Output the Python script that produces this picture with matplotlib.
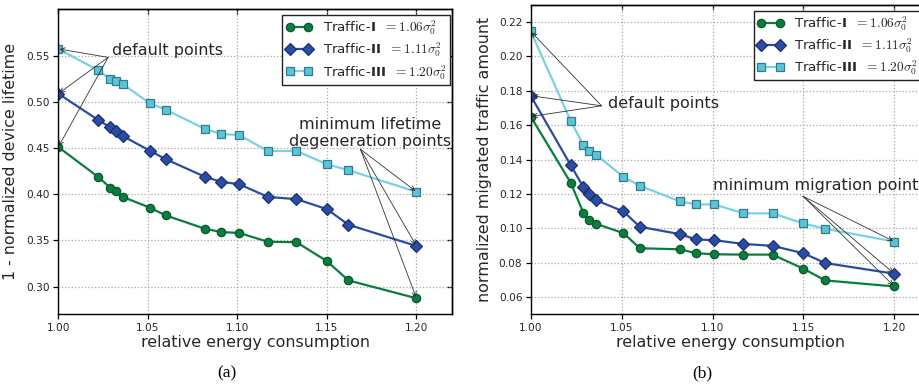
import matplotlib
matplotlib.use("Agg")
import matplotlib.pyplot as plt

plt.rcParams['font.family'] = ['DejaVu Sans']
plt.rcParams['mathtext.fontset'] = 'custom'
plt.rcParams['mathtext.rm'] = 'cmr10'
plt.rcParams['mathtext.it'] = 'cmmi10'
plt.rcParams['mathtext.bf'] = 'DejaVu Sans:bold'
plt.rcParams['mathtext.fallback'] = 'cm'
plt.rcParams['axes.unicode_minus'] = False

# ---------------- data ----------------
energy = [1.000, 1.022, 1.029, 1.032, 1.036, 1.051, 1.060, 1.082, 1.091,
          1.101, 1.117, 1.133, 1.150, 1.162, 1.200]

life_t1 = [0.451, 0.419, 0.407, 0.403, 0.397, 0.3855, 0.377, 0.3625, 0.359,
           0.358, 0.3485, 0.348, 0.3275, 0.3067, 0.2873]
life_t2 = [0.5087, 0.4806, 0.4723, 0.4687, 0.4629, 0.4471, 0.4378, 0.4187,
           0.4133, 0.4108, 0.397, 0.3946, 0.3838, 0.3669, 0.3439]
life_t3 = [0.5572, 0.5342, 0.5245, 0.522, 0.519, 0.4985, 0.4914, 0.4705,
           0.4651, 0.464, 0.4467, 0.4467, 0.4324, 0.4259, 0.4025]

mig_t1 = [0.165, 0.1265, 0.1089, 0.1046, 0.1026, 0.0972, 0.0884, 0.0878,
          0.0855, 0.0849, 0.0847, 0.0847, 0.0765, 0.0697, 0.0662]
mig_t2 = [0.1771, 0.1367, 0.1239, 0.1198, 0.1163, 0.1098, 0.1009, 0.0966,
          0.0935, 0.0931, 0.0909, 0.0898, 0.0855, 0.0798, 0.0736]
mig_t3 = [0.2145, 0.1625, 0.1484, 0.1447, 0.1428, 0.1299, 0.1247, 0.1157,
          0.1139, 0.1139, 0.1087, 0.1087, 0.1028, 0.0997, 0.0923]

labels = [r"Traffic-$\mathbf{I}$  $= 1.06\sigma_0^2$",
          r"Traffic-$\mathbf{II}$  $= 1.11\sigma_0^2$",
          r"Traffic-$\mathbf{III}$  $= 1.20\sigma_0^2$"]

xticks = [1.00, 1.05, 1.10, 1.15, 1.20]
yticks_a = [0.30, 0.35, 0.40, 0.45, 0.50, 0.55]
yticks_b = [0.06, 0.08, 0.10, 0.12, 0.14, 0.16, 0.18, 0.20, 0.22]

# ---------------- style ----------------
styles = [
    dict(color='#0b7d3e', marker='o', ms=6, mfc='#0b7d3e', mec='#075a2c'),
    dict(color='#2a4ca3', marker='D', ms=6, mfc='#2a4ca3', mec='#1b3272'),
    dict(color='#78d2e4', marker='s', ms=6, mfc='#5cc4d8', mec='#2f7d8a'),
]
TXT = '#262626'

W, H = 919, 387
fig = plt.figure(figsize=(W / 100, H / 100), dpi=100)

def px_axes(x0, x1, ytop, ybot):
    return fig.add_axes([x0 / W, 1 - ybot / H, (x1 - x0) / W, (ybot - ytop) / H])

axa = px_axes(58.3, 452.3, 9.3, 314.3)
axb = px_axes(530.7, 930.7, 4.7, 314.3)

def setup(ax, yticks, ylim, ylabel, ylabelx):
    ax.set_xlim(1.0, 1.22)
    ax.set_ylim(*ylim)
    ax.set_xticks(xticks)
    ax.set_yticks(yticks)
    ax.set_xticklabels([f"{v:.2f}" for v in xticks])
    ax.set_yticklabels([f"{v:.2f}" for v in yticks])
    ax.grid(True, linestyle=':', color='#a8a8a8', linewidth=0.9)
    ax.set_axisbelow(True)
    ax.tick_params(direction='out', length=3.5, width=0.9, labelsize=7.6,
                   colors='k', labelcolor=TXT, pad=2.5)
    for s in ax.spines.values():
        s.set_color('k')
        s.set_linewidth(1.0)
    ax.set_xlabel('relative energy consumption', fontsize=11.4, color=TXT,
                  labelpad=2)
    ax.set_ylabel(ylabel, fontsize=11.4, color=TXT)
    ax.yaxis.set_label_coords(ylabelx, 0.5)
    top = ax.secondary_xaxis('top')
    top.set_xticks(xticks)
    top.tick_params(direction='in', length=3.5, width=0.9, labeltop=False)
    right = ax.secondary_yaxis('right')
    right.set_yticks(yticks)
    right.tick_params(direction='in', length=3.5, width=0.9, labelright=False)
    for sec in (top, right):
        for s in sec.spines.values():
            s.set_linewidth(1.0)

setup(axa, yticks_a, (0.27, 0.60), '1 - normalized device lifetime', -0.102)
setup(axb, yticks_b, (0.05, 0.23), 'normalized migrated traffic amount', -0.098)

for ys, st, lab in zip([life_t1, life_t2, life_t3], styles, labels):
    axa.plot(energy, ys, lw=1.6, label=lab, markeredgewidth=0.9, **st)
for ys, st, lab in zip([mig_t1, mig_t2, mig_t3], styles, labels):
    axb.plot(energy, ys, lw=1.6, label=lab, markeredgewidth=0.9, **st)

leg_kw = dict(fontsize=9.6, frameon=True, fancybox=False, borderaxespad=0,
              handlelength=2.0, numpoints=2, labelspacing=0.25,
              borderpad=0.25)
lga = axa.legend(loc='upper right', bbox_to_anchor=(0.9942, 0.981), **leg_kw)
lgb = axb.legend(loc='upper left', bbox_to_anchor=(0.557, 0.9806), **leg_kw)
for lg in (lga, lgb):
    fr = lg.get_frame()
    fr.set_edgecolor('#222222')
    fr.set_linewidth(1.0)
    fr.set_alpha(1)
    for t in lg.get_texts():
        t.set_color(TXT)

arrow = dict(arrowstyle='->', color='#333333', lw=0.6, shrinkA=0, shrinkB=1,
             mutation_scale=8)

# panel (a) annotations
axa.text(1.0298, 0.5554, 'default points', fontsize=11.5, color=TXT,
         va='center', ha='left')
for ys in (life_t1, life_t2, life_t3):
    axa.annotate('', xy=(energy[0], ys[0]), xytext=(1.0278, 0.548),
                 arrowprops=arrow)
axa.text(1.1743, 0.4664, 'minimum lifetime\ndegeneration points',
         fontsize=11.5, color=TXT, va='center', ha='center',
         linespacing=1.2)
for ys in (life_t1, life_t2, life_t3):
    axa.annotate('', xy=(energy[-1], ys[-1]), xytext=(1.1687, 0.4486),
                 arrowprops=arrow)

# panel (b) annotations
axb.text(1.0424, 0.1727, 'default points', fontsize=11.5, color=TXT,
         va='center', ha='left')
for ys in (mig_t1, mig_t2, mig_t3):
    axb.annotate('', xy=(energy[0], ys[0]), xytext=(1.039, 0.1712),
                 arrowprops=arrow)
axb.text(1.1003, 0.1249, 'minimum migration point', fontsize=11.5,
         color=TXT, va='center', ha='left')
for ys in (mig_t1, mig_t2, mig_t3):
    axb.annotate('', xy=(energy[-1], ys[-1]), xytext=(1.1498, 0.1186),
                 arrowprops=arrow)

fig.text(227 / W, 1 - 373 / H, '(a)', fontsize=12.5, family='Liberation Serif',
         ha='center', va='center')
fig.text(702.7 / W, 1 - 373 / H, '(b)', fontsize=12.5, family='Liberation Serif',
         ha='center', va='center')

fig.savefig('out.png', dpi=100)
